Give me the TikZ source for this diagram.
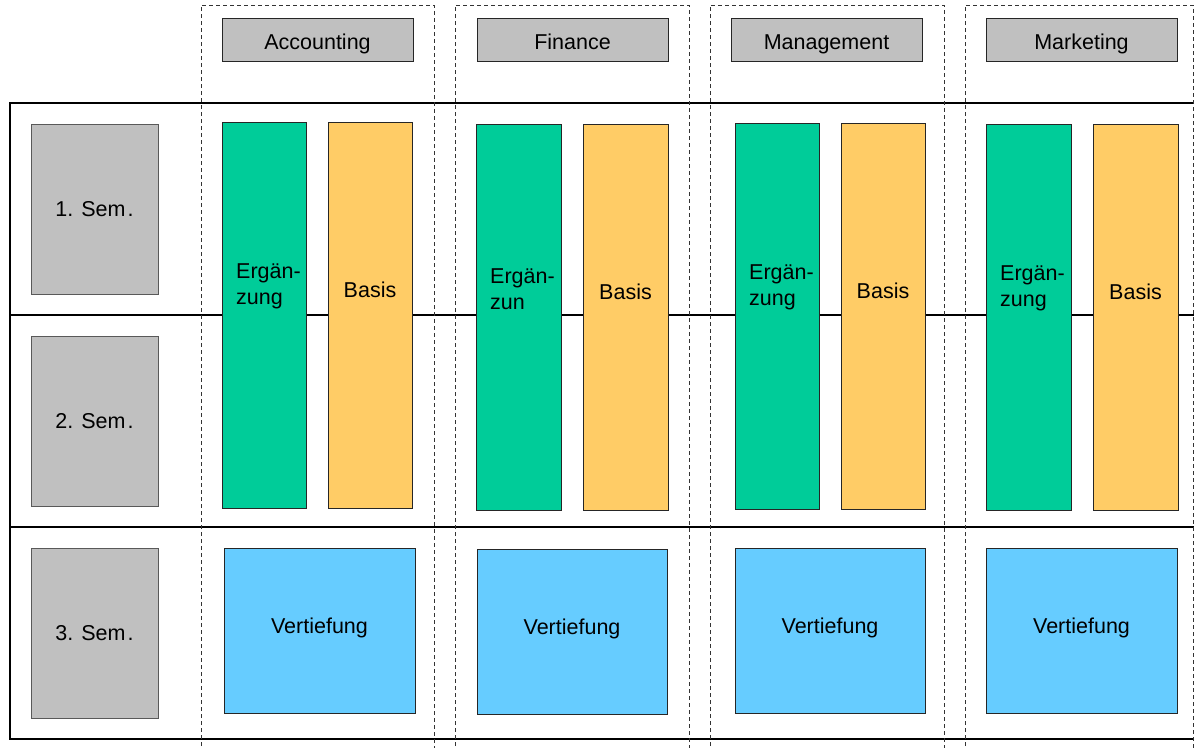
\documentclass[tikz,border=0pt]{standalone}
\usepackage{fontspec}
\setmainfont{Liberation Sans}
\definecolor{hgray}{HTML}{C0C0C0}
\definecolor{egreen}{HTML}{00CC99}
\definecolor{borange}{HTML}{FFCC66}
\definecolor{vblue}{HTML}{66CCFF}
\newcommand{\semtext}[1]{#1. Sem\kern2pt.}
\tikzset{
  boxbase/.style={draw=black!85, line width=0.8pt, inner sep=0pt, outer sep=0pt},
  headbox/.style={boxbase, fill=hgray, minimum width=191pt, minimum height=43pt, text height=19pt, text depth=0pt},
  sembox/.style={boxbase, draw=black!65, fill=hgray, minimum width=127pt, minimum height=170pt},
  greenbar/.style={boxbase, fill=egreen, minimum width=84pt, minimum height=386pt},
  orangebar/.style={boxbase, fill=borange, minimum width=84pt, minimum height=386pt},
  bluebox/.style={boxbase, fill=vblue, minimum width=191pt, minimum height=165pt},
  lbl/.style={inner sep=0pt, font=\fontsize{21.5}{26}\selectfont},
  rowline/.style={line width=2pt, black},
  edgeline/.style={line width=1.3pt, black},
  colframe/.style={draw=black!80, line width=0.8pt, dash pattern=on 4pt off 3pt}
}
\begin{document}
\begin{tikzpicture}[x=1pt, y=-1pt, font=\fontsize{21.5}{26}\selectfont]
\useasboundingbox (0,0) rectangle (1194,747);
\clip (0,0) rectangle (1194,747);
% table frame
\coordinate (t0) at (10,103); \coordinate (t1) at (1194,103);
\coordinate (m0) at (10,315); \coordinate (m1) at (1194,315);
\coordinate (n0) at (10,527); \coordinate (n1) at (1194,527);
\coordinate (b0) at (10,739); \coordinate (b1) at (1194,739);
\draw[edgeline] (t1) -- (t0) -- (b0) -- (b1);
\draw[rowline] (m0) -- (m1);
\draw[rowline] (n0) -- (n1);
% dashed column frames
\draw[colframe] (201,760) -- (201,5) -- (434,5) -- (434,760);
\draw[colframe] (455,760) -- (455,5) -- (689,5) -- (689,760);
\draw[colframe] (710,760) -- (710,5) -- (944,5) -- (944,760);
\draw[colframe] (965,760) -- (965,5) -- (1193,5) -- (1193,760);
% headers
\node[headbox] (hA) at (317.5,39.5) {Accounting};
\node[headbox] (hF) at (572.5,39.5) {Finance};
\node[headbox] (hM) at (826.5,39.5) {Management};
\node[headbox] (hK) at (1081.5,39.5) {Marketing};
% semesters
\node[sembox] (s1) at (94.5,209) {\semtext{1}};
\node[sembox] (s2) at (94.5,421) {\semtext{2}};
\node[sembox] (s3) at (94.5,633) {\semtext{3}};
% bars
\node[greenbar] (gA) at (264,315) {};
\node[orangebar] (oA) at (370,315) {};
\node[greenbar, minimum width=85pt] (gF) at (518.5,317) {};
\node[orangebar, minimum width=85pt] (oF) at (625.5,317) {};
\node[greenbar] (gM) at (777,316) {};
\node[orangebar] (oM) at (883,316) {};
\node[greenbar, minimum width=85pt] (gK) at (1028.5,317) {};
\node[orangebar, minimum width=85pt] (oK) at (1135.5,317) {};
% bar labels
\node[lbl, anchor=west, align=left, xshift=14pt, yshift=29pt] (tgA) at (gA.west) {Ergän-\\zung};
\node[lbl, anchor=west, align=left, xshift=14pt, yshift=28pt] (tgF) at (gF.west) {Ergän-\\zun};
\node[lbl, anchor=west, align=left, xshift=14pt, yshift=29pt] (tgM) at (gM.west) {Ergän-\\zung};
\node[lbl, anchor=west, align=left, xshift=14pt, yshift=29pt] (tgK) at (gK.west) {Ergän-\\zung};
\node[lbl, yshift=25pt] (toA) at (oA.center) {Basis};
\node[lbl, yshift=25pt] (toF) at (oF.center) {Basis};
\node[lbl, yshift=25pt] (toM) at (oM.center) {Basis};
\node[lbl, yshift=25pt] (toK) at (oK.center) {Basis};
% Vertiefung
\node[bluebox] (vA) at (319.5,630.5) {};
\node[bluebox, minimum width=190pt] (vF) at (572,631.5) {};
\node[bluebox, minimum width=190pt] (vM) at (830,630.5) {};
\node[bluebox] (vK) at (1081.5,630.5) {};
\node[lbl, yshift=3pt] (tvA) at (vA.center) {Vertiefung};
\node[lbl, yshift=3pt] (tvF) at (vF.center) {Vertiefung};
\node[lbl, yshift=3pt] (tvM) at (vM.center) {Vertiefung};
\node[lbl, yshift=3pt] (tvK) at (vK.center) {Vertiefung};
\end{tikzpicture}
\end{document}
